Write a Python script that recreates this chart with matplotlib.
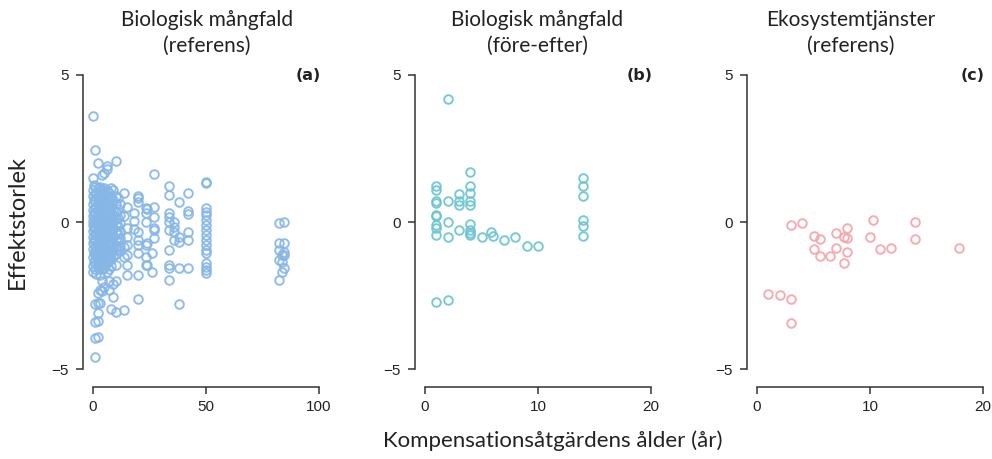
import matplotlib
matplotlib.use("Agg")
import matplotlib.pyplot as plt

plt.rcParams["font.family"] = ["Liberation Sans", "DejaVu Sans"]

# (a) Biologisk mångfald, referens: ålder (år) -> effektstorlekar
bio_ref = {
    0: [3.6, 1.5, 1.1, 0.9, 0.6, 0.4, 0.2, 0.05, -0.1, -0.3, -0.5, -0.7, -0.9, -1.2, -1.5, -1.7],
    0.5: [1.25, 0.75, 0.3, -0.2, -0.6, -1.05, -1.35],
    1: [2.45, 1.2, 0.95, 0.7, 0.5, 0.3, 0.1, -0.05, -0.2, -0.4, -0.6, -0.8, -1.0, -1.3, -1.6,
        -2.8, -3.4, -3.95, -4.6],
    1.5: [1.0, 0.55, 0.05, -0.45, -0.9, -1.15, -1.75],
    2: [2.0, 1.15, 0.85, 0.6, 0.35, 0.15, 0.0, -0.15, -0.35, -0.55, -0.75, -1.0, -1.25, -1.5,
        -2.4, -2.75, -3.1, -3.35, -3.9],
    2.5: [0.95, 0.45, -0.05, -0.65, -1.2, -1.6],
    3: [1.2, 1.0, 0.75, 0.5, 0.25, 0.05, -0.1, -0.3, -0.5, -0.7, -0.9, -1.1, -1.4, -1.8, -2.3, -2.75],
    3.5: [1.05, 0.65, 0.15, -0.4, -0.95, -1.35],
    4: [1.6, 1.1, 0.8, 0.55, 0.3, 0.1, -0.05, -0.25, -0.45, -0.65, -0.85, -1.05, -1.3, -1.6, -2.0, -2.35],
    4.5: [0.7, 0.25, -0.35, -0.75, -1.15, -1.45],
    5: [1.65, 1.15, 0.9, 0.65, 0.4, 0.2, 0.0, -0.2, -0.4, -0.6, -0.8, -1.0, -1.25, -1.55, -2.2],
    5.5: [0.95, 0.5, -0.1, -0.55, -1.1],
    6: [1.9, 1.8, 1.1, 0.85, 0.6, 0.35, 0.15, -0.05, -0.25, -0.45, -0.65, -0.9, -1.15, -1.4, -1.7],
    6.5: [0.75, 0.2, -0.4, -0.95, -1.25],
    7: [1.0, 0.7, 0.45, 0.25, 0.05, -0.15, -0.35, -0.55, -0.8, -1.05, -1.3, -1.6, -2.0, -2.3],
    7.5: [0.9, 0.35, -0.2, -0.65, -1.15],
    8: [1.15, 0.8, 0.5, 0.3, 0.1, -0.1, -0.3, -0.5, -0.75, -1.0, -1.25, -1.5, -2.95],
    9: [1.1, 0.75, 0.45, 0.2, 0.0, -0.25, -0.5, -0.7, -0.95, -1.2, -2.1, -2.55],
    10: [2.07, 0.9, 0.6, 0.35, 0.1, -0.1, -0.35, -0.6, -0.85, -1.1, -1.45, -2.0, -3.05],
    11: [0.8, 0.45, 0.15, -0.15, -0.4, -0.65, -0.9],
    12: [0.6, 0.25, -0.05, -0.3, -0.55, -0.8, -1.0],
    13.5: [1.0, 0.2, -0.84, -1.18, -3.0],
    15: [0.5, -0.2, -0.5, -0.78, -1.12, -1.46, -1.8],
    18: [0.3, 0.05, -0.25],
    19.7: [0.9, 0.8, 0.69, -0.33, -0.61, -0.78, -1.06, -1.8, -2.6],
    23.4: [0.47, 0.3, 0.01, -0.78, -1.18, -1.46],
    24: [0.45, -0.72, -1.46],
    26: [-1.06, -1.69],
    27: [1.62, 0.5, 0.18, -0.21, -0.27, -0.55],
    33.8: [1.22, 0.92, 0.3, 0.18, 0.01, -0.27, -0.95, -1.46, -1.57, -1.97],
    36: [0.0, -0.16, -0.33, -0.61],
    37.9: [0.67, -0.5, -0.67, -1.57, -2.77],
    41.9: [1.0, 0.38, 0.27, -0.33, -0.61, -1.57],
    49.8: [1.37, 1.32, 0.47, 0.35, 0.24, 0.07, -0.1, -0.27, -0.44, -0.61, -0.78, -0.95, -1.06,
           -1.4, -1.52, -1.63, -1.74],
    82.1: [-0.04, -0.72, -0.95, -1.29, -1.97],
    83.5: [-1.12, -1.35, -1.69],
    84.6: [-0.01, -0.7, -1.01, -1.12, -1.57],
}

# (b) Biologisk mångfald, före-efter
bio_fe_x = [2, 1, 1, 1, 1, 1, 1, 1, 1, 1, 2, 2, 2, 3, 3, 3, 3,
            4, 4, 4, 4, 4, 4, 4, 4, 4, 5, 5.8, 6, 7, 8, 9, 10,
            14, 14, 14, 14, 14, 14, 1, 2]
bio_fe_y = [4.17, 1.23, 1.10, 0.70, 0.65, 0.25, 0.19, -0.09, -0.2, -0.45, 0.70, 0.0, -0.51,
            0.96, 0.70, 0.57, -0.26,
            1.70, 1.23, 0.98, 0.70, 0.57, -0.07, -0.26, -0.37, -0.45, -0.51, -0.35, -0.49,
            -0.62, -0.51, -0.83, -0.83,
            1.49, 1.23, 0.89, 0.06, -0.15, -0.49, -2.72, -2.64]

# (c) Ekosystemtjänster, referens
eko_x = [3, 4, 5, 5.6, 7, 7.7, 8, 8, 10, 10.3, 14, 14,
         5, 5.6, 6.5, 7, 8, 7.7, 10.9, 11.9, 17.9, 1, 2, 3, 3]
eko_y = [-0.09, -0.03, -0.46, -0.58, -0.36, -0.51, -0.19, -0.53, -0.51, 0.07, 0.0, -0.59,
         -0.91, -1.15, -1.15, -0.89, -1.01, -1.38, -0.91, -0.89, -0.89, -2.43, -2.47, -2.63, -3.43]

bio_ref_x = [k for k, v in bio_ref.items() for _ in v]
bio_ref_y = [y for v in bio_ref.values() for y in v]

panels = [
    (bio_ref_x, bio_ref_y, "#86B6E6", (-4, 104), [0, 50, 100], "(a)",
     "Biologisk mångfald\n(referens)", 84, 207),
    (bio_fe_x, bio_fe_y, "#6BC4D0", (-0.8, 20.8), [0, 10, 20], "(b)",
     "Biologisk mångfald\n(före-efter)", 416, 537),
    (eko_x, eko_y, "#F5A3AB", (-0.8, 20.8), [0, 10, 20], "(c)",
     "Ekosystemtjänster\n(referens)", 748, 851),
]

W, H = 992, 459
fig = plt.figure(figsize=(W / 100, H / 100), dpi=100)
title_font = ["Lato", "DejaVu Sans"]

for xs, ys, col, xlim, xticks, tag, title, left, tx in panels:
    ax = fig.add_axes([left / W, 78 / H, 244 / W, 318 / H])
    ax.plot(xs, ys, "o", mfc="none", mec=col, ms=6.2, mew=1.4, alpha=0.9)
    ax.set_xlim(*xlim)
    ax.set_ylim(-5.4, 5.4)
    ax.set_xticks(xticks)
    ax.set_yticks([-5, 0, 5])
    ax.set_yticklabels(["\u22125", "0", "5"])
    for s in ("top", "right"):
        ax.spines[s].set_visible(False)
    ax.spines["left"].set_bounds(-5, 5)
    ax.spines["bottom"].set_bounds(xticks[0], xticks[-1])
    ax.spines["bottom"].set_position(("outward", 4))
    ax.spines["left"].set_position(("outward", 1))
    for s in ("left", "bottom"):
        ax.spines[s].set_linewidth(1.1)
        ax.spines[s].set_color("#333333")
    ax.tick_params(length=5, width=1.1, color="#333333", labelsize=11,
                   labelcolor="#222222", pad=5)
    ax.text(0.97, 0.985, tag, transform=ax.transAxes, ha="right", va="top",
            fontsize=11.5, fontweight="bold", family="DejaVu Sans", color="#222222")
    fig.text(tx / W, 1 - 10 / H, title, ha="center", va="top", fontsize=15,
             family=title_font, color="#222222", linespacing=1.35)

fig.text(17 / W, 1 - 222 / H, "Effektstorlek", rotation=90, ha="center", va="center",
         fontsize=17, family=title_font, color="#222222")
fig.text(553 / W, 1 - 441 / H, "Kompensationsåtgärdens ålder (år)", ha="center", va="center",
         fontsize=16, family=title_font, color="#222222")

fig.savefig("out.png", dpi=100)
